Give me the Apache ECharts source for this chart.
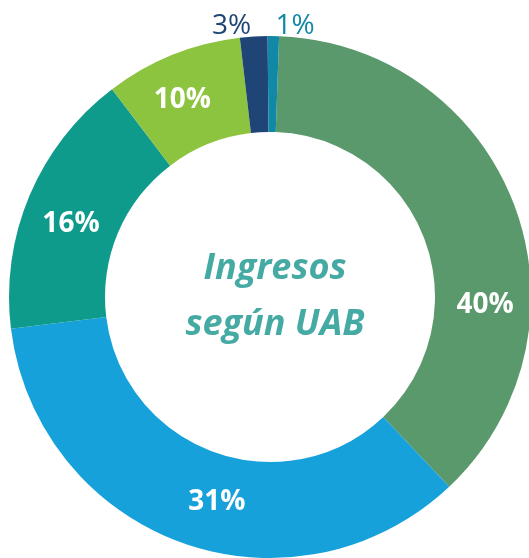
<!DOCTYPE html>
<html>
<head>
<meta charset="utf-8">
<script src="https://cdn.jsdelivr.net/npm/echarts@6/dist/echarts.min.js"></script>
<style>
  html, body { margin: 0; padding: 0; background: #ffffff; }
  #chart { width: 529px; height: 558px; }
</style>
</head>
<body>
<div id="chart"></div>
<script>
// share of each slice as drawn (the printed labels are rounded differently)
var categories = ["A", "B", "C", "D", "E", "F"];
var shares = [37.4, 35.1, 16.6, 8.5, 1.7, 0.7];
var labels = ["40%", "31%", "16%", "10%", "3%", "1%"];
var colors = ["#5a996b", "#17a1db", "#0e9b8c", "#8dc43f", "#1f4576", "#1189a6"];

var chart = echarts.init(document.getElementById("chart"));

var data = categories.map(function (c, i) {
  var item = { name: c, value: shares[i], itemStyle: { color: colors[i] } };
  if (i >= 4) {
    // small slices get their label outside, in the slice colour
    item.label = {
      position: "outside",
      color: colors[i],
      fontWeight: "normal",
      distanceToLabelLine: 2
    };
  }
  return item;
});

// small nudges so the labels sit where the original put them
var nudges = [[13, 84], [20, 2], [0, 11], [-7, 3], [0, 0], [0, 0]];

var option = {
  backgroundColor: "#ffffff",
  animation: false,
  series: [
    {
      type: "pie",
      center: [270, 297],
      radius: [165, 261],
      startAngle: 88,
      clockwise: true,
      avoidLabelOverlap: false,
      data: data,
      label: {
        show: true,
        position: "inside",
        color: "#ffffff",
        fontFamily: "Open Sans",
        fontWeight: "bold",
        fontSize: 28,
        formatter: function (p) { return labels[p.dataIndex]; }
      },
      labelLine: { show: false, length: 10, length2: 0 },
      labelLayout: function (p) {
        var n = nudges[p.dataIndex];
        return { dx: n[0], dy: n[1] };
      }
    }
  ],
  graphic: [
    {
      type: "text",
      x: 275,
      y: 297,
      style: {
        text: "Ingresos\nsegún UAB",
        align: "center",
        verticalAlign: "middle",
        fill: "#45aaa3",
        font: "italic bold 36px 'Open Sans', sans-serif",
        lineHeight: 56
      }
    }
  ]
};

chart.setOption(option);
</script>
</body>
</html>
